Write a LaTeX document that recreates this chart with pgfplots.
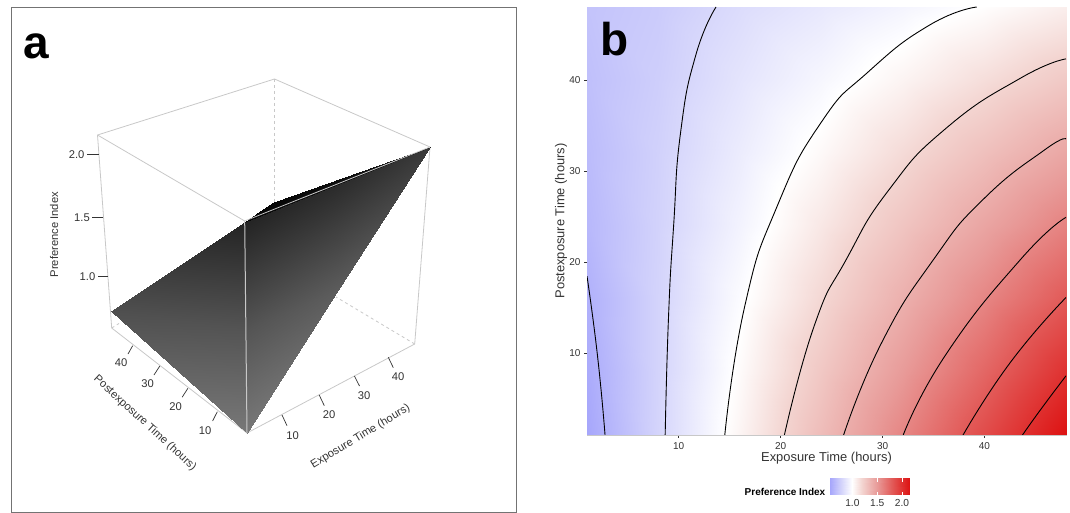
\documentclass[border=0pt]{standalone}
\usepackage{pgfplots}
\usepackage{fontspec}
\setmainfont{Liberation Sans}
\pgfplotsset{compat=1.18}
\pgfplotsset{colormap={pref}{rgb255(54)=(166,166,251) rgb255(77)=(211,211,251) rgb255(100)=(255,255,255) rgb255(120)=(243,212,208) rgb255(150)=(232,155,153) rgb255(180)=(226,90,88) rgb255(215)=(221,17,17)}}
\pgfplotsset{cont/.style={black,line width=.9pt,smooth,tension=0.9,no marks}}
\newcommand{\fs}[1]{\fontsize{#1}{#1}\selectfont}
\definecolor{boxc}{HTML}{C8C8C8}
\definecolor{tickc}{HTML}{333333}
\begin{document}
\begin{tikzpicture}
\path[use as bounding box] (0,0) rectangle (1070pt,513pt);
% panel a, drawn in picture pixels
\begin{axis}[at={(0,0)},anchor=south west,scale only axis,width=1070pt,height=513pt,
  xmin=0,xmax=1070,ymin=0,ymax=513,y dir=reverse,hide axis,clip=false,
  colormap/blackwhite,point meta min=0,point meta max=1]
\addplot[color=gray!90!black,line width=1pt] coordinates {(11,7.5) (516,7.5) (516,512.5) (11,512.5) (11,7.5)};
% back box
\addplot[boxc,line width=.8pt] coordinates {(97.5,135) (274.5,79) (430,147)};
\addplot[boxc,line width=.8pt] coordinates {(97.5,135) (244.7,221)};
\addplot[boxc,line width=.8pt] coordinates {(97.5,135) (111.7,328)};
\addplot[boxc,line width=.8pt] coordinates {(430,147) (414.7,344)};
\addplot[boxc,line width=.8pt] coordinates {(111.7,328) (247,433) (414.7,344)};
\addplot[boxc,line width=.8pt,dash pattern=on 3pt off 3pt] coordinates {(274.5,79) (274.5,203)};
\addplot[boxc,line width=.8pt,dash pattern=on 3pt off 3pt] coordinates {(414.7,344) (336,297)};
\addplot[boxc,line width=.8pt,dash pattern=on 3pt off 3pt] coordinates {(111.7,328) (119,323.5)};
% surface
\addplot[patch,shader=interp,point meta=explicit] table[x=x,y=y,meta=c] {
x y c
110.5 311 0.31
247 433 0.47
246 330 0.33
110.5 311 0.31
246 330 0.33
245 222 0.14
246 330 0.33
247 433 0.47
338 290 0.36
245 222 0.14
246 330 0.33
337 185 0.17
246 330 0.33
338 290 0.36
337 185 0.17
337 185 0.17
338 290 0.36
430 147 0.22
245 222 0.02
260 211 0.02
274 202 0.02
245 222 0.02
274 202 0.02
430 147 0.10
};
\addplot[boxc,line width=1pt] coordinates {(244.7,221) (247,433)};
\addplot[boxc,line width=.8pt] coordinates {(244.7,221) (430,147)};
% z ticks
\addplot[tickc,line width=.7pt] coordinates {(87.3,154.5) (98.5,154.5)};
\addplot[tickc,line width=.7pt] coordinates {(92.4,217.7) (103.2,217.7)};
\addplot[tickc,line width=.7pt] coordinates {(98,276.7) (108.3,276.7)};
% post ticks
\addplot[tickc,line width=.7pt] coordinates {(217.3,411.7) (212.6,421)};
\addplot[tickc,line width=.7pt] coordinates {(187.9,388.3) (182.1,397.3)};
\addplot[tickc,line width=.7pt] coordinates {(159.8,366) (154,375)};
\addplot[tickc,line width=.7pt] coordinates {(132.7,345.7) (128,354)};
% exposure ticks
\addplot[tickc,line width=.7pt] coordinates {(282,415) (287,425.7)};
\addplot[tickc,line width=.7pt] coordinates {(319.2,395) (324.3,405.7)};
\addplot[tickc,line width=.7pt] coordinates {(354.4,376) (359.5,386)};
\addplot[tickc,line width=.7pt] coordinates {(388.3,357.3) (393.3,367.7)};
\begin{scope}[every node/.style={inner sep=0pt,text=tickc,font=\fs{11.2}}]
\node[anchor=east] at (axis cs:84.6,154.5) {2.0};
\node[anchor=east] at (axis cs:90,217.7) {1.5};
\node[anchor=east] at (axis cs:95.5,276.7) {1.0};
\node at (axis cs:205,431) {10};
\node at (axis cs:175.5,406.7) {20};
\node at (axis cs:147.5,384) {30};
\node at (axis cs:121,362.3) {40};
\node at (axis cs:292.5,435.7) {10};
\node at (axis cs:329,415) {20};
\node at (axis cs:364.2,395.3) {30};
\node at (axis cs:398,377) {40};
\node[rotate=90] at (axis cs:54,234.7) {Preference Index};
\node[rotate=-42.6] at (axis cs:145,423.3) {Postexposure Time (hours)};
\node[rotate=31] at (axis cs:360.5,436.7) {Exposure Time (hours)};
\end{scope}
\node[inner sep=0pt,anchor=base west,font=\fs{46}\bfseries] at (axis cs:23.5,59) {a};
% panel b labels
\node[inner sep=0pt,font=\fs{12.9},text=tickc] at (axis cs:826.5,458) {Exposure Time (hours)};
\node[inner sep=0pt,rotate=90,font=\fs{12.9},text=tickc] at (axis cs:561,221) {Postexposure Time (hours)};
\node[inner sep=0pt,anchor=east,font=\fs{10}\bfseries] at (axis cs:825.5,492) {Preference Index};
\end{axis}
% panel b heatmap
\begin{axis}[at={(587pt,78pt)},anchor=south west,scale only axis,width=479pt,height=428pt,
  xmin=1,xmax=48,ymin=1,ymax=48,
  colormap name=pref,point meta min=0.54,point meta max=2.15,
  xtick={10,20,30,40},ytick={10,20,30,40},xtick pos=left,ytick pos=left,
  tick align=outside,major tick length=3pt,
  tick style={color=tickc,line width=.6pt},
  axis line style={color=boxc,line width=.8pt},
  /pgf/number format/assume math mode=true,
  ticklabel style={font=\fs{10},text=tickc},
  xticklabel style={yshift=-1pt}]
\addplot[surf,shader=interp,point meta=explicit,mesh/cols=7] table[x=x,y=y,meta=v] {
x y v
1 1 0.54
8 1 0.777
16 1 1.05
24 1 1.325
32 1 1.60
40 1 1.87
48 1 2.146
1 8 0.564
8 8 0.774
16 8 1.02
24 8 1.265
32 8 1.50
40 8 1.74
48 8 1.995
1 16 0.594
8 16 0.773
16 16 0.982
24 16 1.183
32 16 1.39
40 16 1.595
48 16 1.80
1 24 0.63
8 24 0.767
16 24 0.937
24 24 1.11
32 24 1.282
40 24 1.45
48 24 1.617
1 32 0.65
8 32 0.76
16 32 0.90
24 32 1.03
32 32 1.17
40 32 1.307
48 32 1.44
1 40 0.67
8 40 0.745
16 40 0.86
24 40 0.955
32 40 1.054
40 40 1.156
48 40 1.26
1 48 0.69
8 48 0.73
16 48 0.818
24 48 0.88
32 48 0.943
40 48 1.006
48 48 1.08
};
\addplot[cont] coordinates {(2.77,1) (2.03,9.7) (1,18.45)};
\addplot[cont] coordinates {(8.67,1) (9.0,14) (9.5,24) (10.18,34.2) (11.67,42.7) (13.66,48)};
\addplot[cont] coordinates {(14.52,1) (16.49,15.2) (19.65,26.1) (23.96,35.3) (28.62,40.9) (34.59,46) (39.24,48)};
\addplot[cont] coordinates {(20.37,1) (23.3,13) (26.45,20.3) (30.61,27.9) (36.25,34.7) (43.56,40.2) (48,42.3)};
\addplot[cont] coordinates {(26.18,1) (29.94,11.2) (35.02,20.3) (39.9,26.9) (45.89,32.3) (48,33.5)};
\addplot[cont] coordinates {(32.03,1) (36.25,9.9) (43.56,20.3) (48,24.9)};
\addplot[cont] coordinates {(37.9,1) (42.56,9) (48,16.1)};
\addplot[cont] coordinates {(43.73,1) (45.55,3.85) (48,7.5)};
\node[inner sep=0pt,anchor=base west,font=\fs{46}\bfseries] at (axis cs:2.3,42.7) {b};
\end{axis}
% colour bar
\begin{axis}[at={(829.5pt,18pt)},anchor=south west,scale only axis,width=80pt,height=16.5pt,
  xmin=0.54,xmax=2.15,ymin=0,ymax=1,
  colormap name=pref,point meta min=0.54,point meta max=2.15,
  xtick={1,1.5,2},xticklabels={1.0,1.5,2.0},ytick=\empty,xtick pos=left,
  major tick length=0pt,axis line style={draw=none},
  xticklabel style={font=\fs{10.2},text=tickc,yshift=-1pt}]
\addplot[surf,shader=interp,point meta=explicit,mesh/cols=7] table[x=x,y=y,meta=v] {
x y v
0.54 0 0.54
0.77 0 0.77
1.0 0 1.0
1.2 0 1.2
1.5 0 1.5
1.8 0 1.8
2.15 0 2.15
0.54 1 0.54
0.77 1 0.77
1.0 1 1.0
1.2 1 1.2
1.5 1 1.5
1.8 1 1.8
2.15 1 2.15
};
\addplot[white,line width=.5pt] coordinates {(1,0) (1,0.2)};
\addplot[white,line width=.5pt] coordinates {(1,0.8) (1,1)};
\addplot[white,line width=.5pt] coordinates {(1.5,0) (1.5,0.2)};
\addplot[white,line width=.5pt] coordinates {(1.5,0.8) (1.5,1)};
\addplot[white,line width=.5pt] coordinates {(2,0) (2,0.2)};
\addplot[white,line width=.5pt] coordinates {(2,0.8) (2,1)};
\end{axis}
\end{tikzpicture}
\end{document}
